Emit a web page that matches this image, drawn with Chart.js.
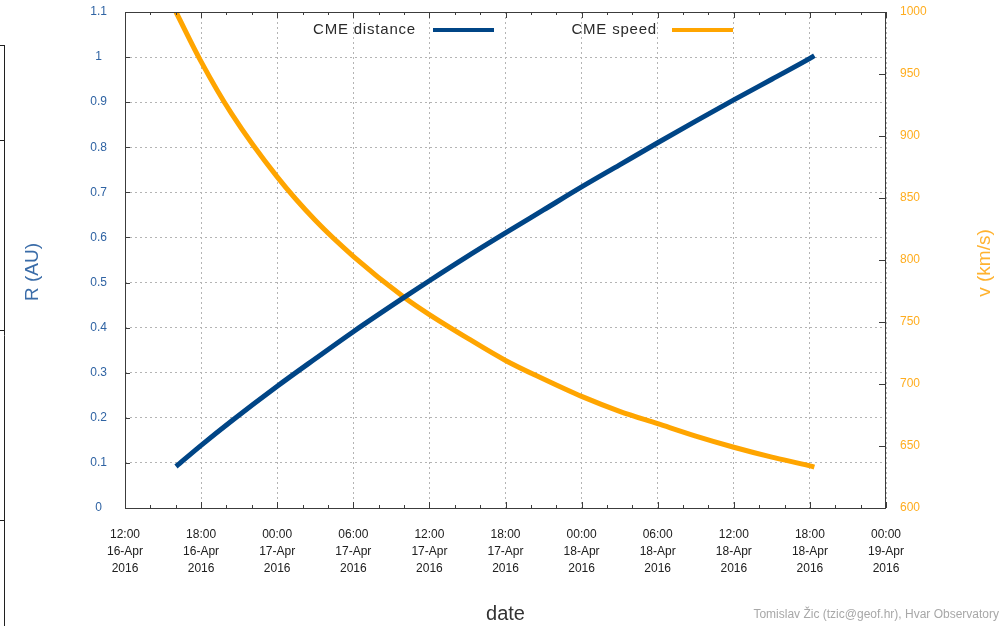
<!DOCTYPE html>
<html>
<head>
<meta charset="utf-8">
<script src="https://cdn.jsdelivr.net/npm/chart.js@4.4.1/dist/chart.umd.min.js"></script>
<style>
  html, body { margin: 0; padding: 0; background: #ffffff; overflow: hidden; }
  canvas { display: block; }
</style>
</head>
<body>
<canvas id="cme" width="1001" height="626"></canvas>
<script>
// Drag-based model run, hours counted from 2016-04-16 12:00 UT
const START_UT = Date.UTC(2016, 3, 16, 12, 0);
const hoursAfterStart = [4.02, 6, 8.4, 12, 15, 18, 22, 24, 27, 30, 33, 36, 39, 42, 45, 48, 51, 54, 54.35];
const cmeDistanceAU   = [0.092, 0.139, 0.193, 0.270, 0.331, 0.391, 0.467, 0.504, 0.558, 0.610, 0.661, 0.712, 0.761, 0.810, 0.858, 0.905, 0.951, 0.997, 1.003];
const cmeSpeedKms     = [1000, 960, 918, 867, 832, 803, 770, 756, 737, 719, 704, 690, 678, 668, 658, 649, 641, 634, 633];

const timeTickHours = [0, 6, 12, 18, 24, 30, 36, 42, 48, 54, 60];
const distanceTicks = [0, 0.1, 0.2, 0.3, 0.4, 0.5, 0.6, 0.7, 0.8, 0.9, 1, 1.1];
const speedTicks    = [600, 650, 700, 750, 800, 850, 900, 950, 1000];
const MONTHS = ['Jan','Feb','Mar','Apr','May','Jun','Jul','Aug','Sep','Oct','Nov','Dec'];

const BLUE = '#004586';
const ORANGE = '#ffa500';
const FONT = "'Liberation Sans', Arial, sans-serif";

function pad2(n) { return String(n).padStart(2, '0'); }
function timeLabel(h) {
  const d = new Date(START_UT + h * 3600e3);
  return [
    pad2(d.getUTCHours()) + ':' + pad2(d.getUTCMinutes()),
    pad2(d.getUTCDate()) + '-' + MONTHS[d.getUTCMonth()],
    String(d.getUTCFullYear())
  ];
}

const toPoints = (ys) => hoursAfterStart.map((h, i) => ({ x: h, y: ys[i] }));

// keep the plot frame exactly where the axes put it
function noEdgePadding(s) {
  s.paddingTop = 0; s.paddingBottom = 0; s.paddingLeft = 0; s.paddingRight = 0;
}

// Frame, inward tick marks, y titles, legend and footer text
const decorations = {
  id: 'decorations',
  afterDraw(chart) {
    const { ctx, chartArea: a, scales } = chart;
    ctx.save();

    // frame
    ctx.strokeStyle = '#3c3c3c';
    ctx.lineWidth = 1;
    ctx.setLineDash([]);
    ctx.strokeRect(a.left + 0.5, a.top + 0.5, a.right - a.left - 1, a.bottom - a.top);

    ctx.beginPath();
    distanceTicks.forEach(v => {
      const y = Math.round(scales.y.getPixelForValue(v)) + 0.5;
      ctx.moveTo(a.left, y); ctx.lineTo(a.left + 5, y);
    });
    speedTicks.forEach(v => {
      const y = Math.round(scales.y2.getPixelForValue(v)) + 0.5;
      ctx.moveTo(a.right, y); ctx.lineTo(a.right - 7, y);
    });
    for (let h = 0; h <= 60; h += 2) {
      const x = Math.round(scales.x.getPixelForValue(h)) + 0.5;
      const len = h % 6 === 0 ? 6 : 3;
      ctx.moveTo(x, a.bottom); ctx.lineTo(x, a.bottom - len);
      ctx.moveTo(x, a.top); ctx.lineTo(x, a.top + len);
    }
    ctx.stroke();

    // edge of a neighbouring panel
    ctx.strokeStyle = '#202020';
    ctx.beginPath();
    ctx.moveTo(4.5, 45); ctx.lineTo(4.5, 626);
    [45, 140, 330, 520].forEach(y => { ctx.moveTo(0, y + 0.5); ctx.lineTo(5, y + 0.5); });
    ctx.stroke();

    // y axis titles
    ctx.font = '19px ' + FONT;
    ctx.textAlign = 'center';
    ctx.textBaseline = 'middle';
    ctx.fillStyle = '#3a6ca8';
    ctx.translate(33, 272); ctx.rotate(-Math.PI / 2);
    ctx.fillText('R (AU)', 0, 0);
    ctx.setTransform(1, 0, 0, 1, 0, 0);
    ctx.fillStyle = '#ffb22e';
    ctx.translate(985, 263); ctx.rotate(-Math.PI / 2);
    ctx.fillText('v (km/s)', 0, 0);
    ctx.setTransform(1, 0, 0, 1, 0, 0);

    // legend: label then line sample
    const legendSlots = [{ textRight: 416, lineFrom: 433, lineTo: 494 }, { textRight: 657, lineFrom: 672, lineTo: 733 }];
    ctx.font = '15px ' + FONT;
    ctx.textAlign = 'right';
    if ('letterSpacing' in ctx) ctx.letterSpacing = '0.8px';
    chart.data.datasets.forEach((ds, i) => {
      const s = legendSlots[i];
      ctx.fillStyle = '#2a2a2a';
      ctx.fillText(ds.label, s.textRight, 30);
      ctx.strokeStyle = ds.borderColor;
      ctx.lineWidth = 4;
      ctx.beginPath(); ctx.moveTo(s.lineFrom, 30); ctx.lineTo(s.lineTo, 30); ctx.stroke();
    });
    if ('letterSpacing' in ctx) ctx.letterSpacing = '0px';

    // footer
    ctx.font = '12px ' + FONT;
    ctx.fillStyle = '#a8a8a8';
    ctx.textAlign = 'right';
    ctx.fillText('Tomislav Žic (tzic@geof.hr), Hvar Observatory', 999, 615);
    ctx.restore();
  }
};

new Chart(document.getElementById('cme'), {
  type: 'line',
  data: {
    datasets: [
      {
        label: 'CME distance',
        data: toPoints(cmeDistanceAU),
        yAxisID: 'y',
        borderColor: BLUE,
        borderWidth: 5,
        pointRadius: 0,
        cubicInterpolationMode: 'monotone',
        fill: false
      },
      {
        label: 'CME speed',
        data: toPoints(cmeSpeedKms),
        yAxisID: 'y2',
        borderColor: ORANGE,
        borderWidth: 5,
        pointRadius: 0,
        cubicInterpolationMode: 'monotone',
        fill: false
      }
    ]
  },
  options: {
    responsive: false,
    animation: false,
    events: [],
    layout: { padding: { top: 12, left: 0, right: 0, bottom: 0 } },
    plugins: { legend: { display: false }, tooltip: { enabled: false } },
    scales: {
      x: {
        type: 'linear',
        min: 0, max: 60,
        afterBuildTicks: s => { s.ticks = timeTickHours.map(v => ({ value: v })); },
        afterFit: s => { s.height = 118; noEdgePadding(s); },
        grid: { color: '#b4b4b4', lineWidth: 1, drawTicks: false },
        border: { display: false, dash: [2, 3] },
        ticks: {
          padding: 18,
          maxRotation: 0,
          autoSkip: false,
          color: '#202020',
          font: { family: FONT, size: 12, lineHeight: 1.42 },
          callback: v => timeLabel(v)
        },
        title: {
          display: true,
          text: 'date',
          color: '#333333',
          font: { family: FONT, size: 20, lineHeight: 1.2 },
          padding: { top: 0, bottom: 0 }
        }
      },
      y: {
        position: 'left',
        min: 0, max: 1.1,
        afterBuildTicks: s => { s.ticks = distanceTicks.map(v => ({ value: v })); },
        afterFit: s => { s.width = 125; noEdgePadding(s); },
        grid: { color: '#b4b4b4', lineWidth: 1, drawTicks: false },
        border: { display: false, dash: [2, 3] },
        ticks: {
          padding: 18,
          crossAlign: 'center',
          color: '#2f63a3',
          font: { family: FONT, size: 12 },
          callback: v => String(Number(v.toFixed(1)))
        }
      },
      y2: {
        position: 'right',
        min: 600, max: 1000,
        afterBuildTicks: s => { s.ticks = speedTicks.map(v => ({ value: v })); },
        afterFit: s => { s.width = 115; noEdgePadding(s); },
        grid: { display: false, drawTicks: false },
        border: { display: false },
        ticks: {
          padding: 14,
          color: '#ffad1f',
          font: { family: FONT, size: 12 },
          callback: v => String(v)
        }
      }
    }
  },
  plugins: [decorations]
});
</script>
</body>
</html>
